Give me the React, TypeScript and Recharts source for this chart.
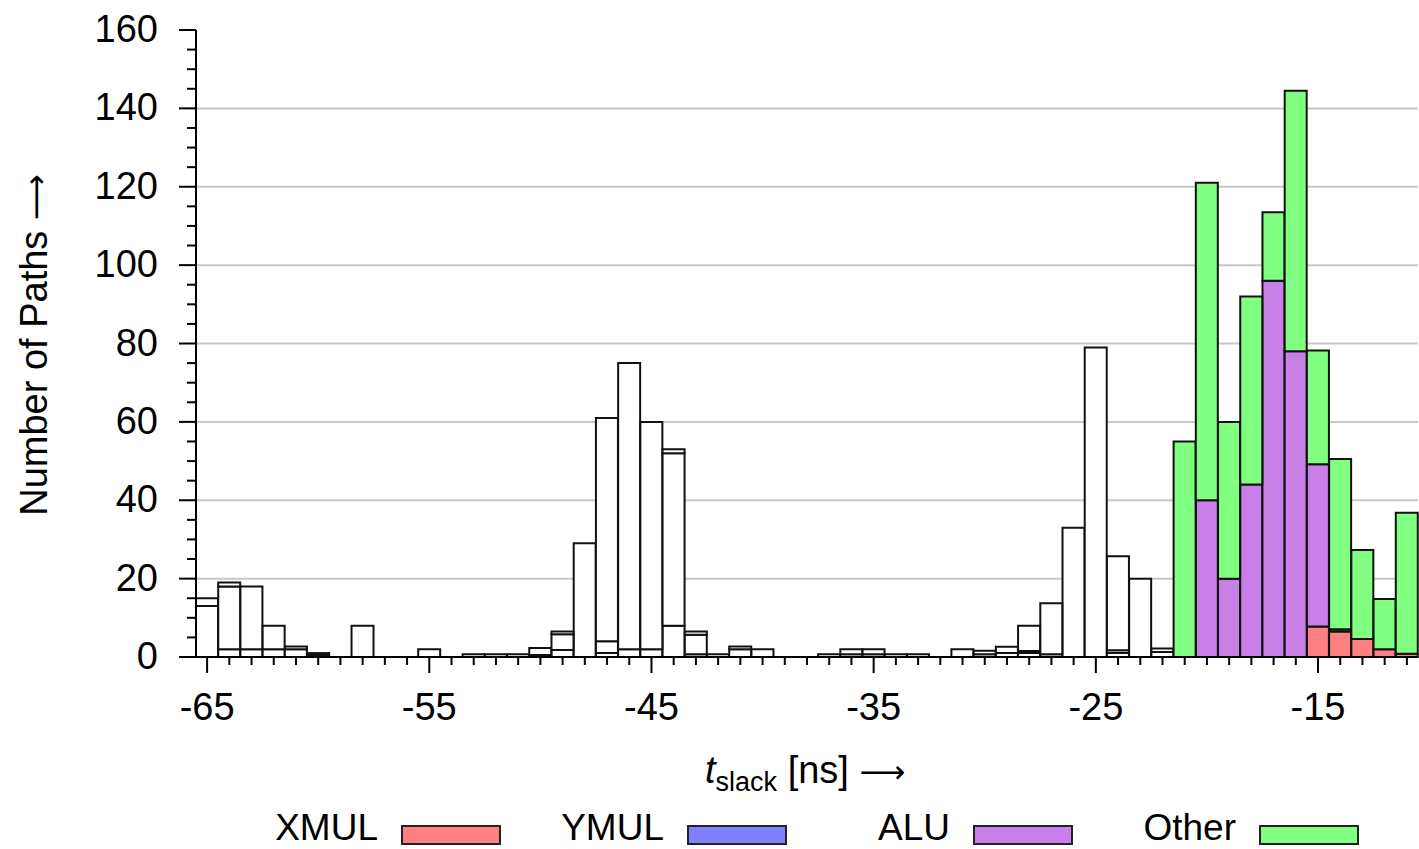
import React from 'react';
import { BarChart, Bar, XAxis, YAxis, CartesianGrid } from 'recharts';

// slack bins [ns], one bar per ns
const bins = [
  -65, -64, -63, -62, -61, -60, -59, -58, -57, -56, -55,
  -54, -53, -52, -51, -50, -49, -48, -47, -46, -45, -44,
  -43, -42, -41, -40, -39, -38, -37, -36, -35, -34, -33,
  -32, -31, -30, -29, -28, -27, -26, -25, -24, -23, -22,
  -21, -20, -19, -18, -17, -16, -15, -14, -13, -12, -11,
];

// uncoloured (outline only) histogram, stacked in three parts
const whiteLow = [
  13, 2, 2, 2, 2, 0.5, 0, 8, 0, 0, 2,
  0, 0.7, 0.7, 0.7, 0.5, 1.8, 29, 1, 2, 2, 8,
  0.7, 0.7, 2, 2, 0, 0, 0.7, 0.7, 0.7, 0.7, 0.7,
  0, 2, 0.7, 1, 1, 0.7, 33, 79, 1, 20, 1.3,
  0, 0, 0, 0, 0, 0, 0, 0, 0, 0, 0,
];
const whiteMid = [
  2, 16, 16, 6, 0.7, 0.5, 0, 0, 0, 0, 0,
  0, 0, 0, 0, 1.8, 4, 0, 3, 73, 58, 44,
  5, 0, 0.7, 0, 0, 0, 0, 1.3, 1.3, 0, 0,
  0, 0, 0.9, 1.6, 0.5, 13, 0, 0, 0.7, 0, 0.9,
  0, 0, 0, 0, 0, 0, 0, 0, 0, 0, 0,
];
const whiteTop = [
  0, 1, 0, 0, 0, 0, 0, 0, 0, 0, 0,
  0, 0, 0, 0, 0, 0.7, 0, 57, 0, 0, 1,
  0.8, 0, 0, 0, 0, 0, 0, 0, 0, 0, 0,
  0, 0, 0, 0, 6.5, 0, 0, 0, 24, 0, 0,
  0, 0, 0, 0, 0, 0, 0, 0, 0, 0, 0,
];

// coloured histogram per unit
const xmul = [
  0, 0, 0, 0, 0, 0, 0, 0, 0, 0, 0,
  0, 0, 0, 0, 0, 0, 0, 0, 0, 0, 0,
  0, 0, 0, 0, 0, 0, 0, 0, 0, 0, 0,
  0, 0, 0, 0, 0, 0, 0, 0, 0, 0, 0,
  0, 0, 0, 0, 0, 0, 7.8, 6.5, 4.6, 2, 0.8,
];
const ymul = [
  0, 0, 0, 0, 0, 0, 0, 0, 0, 0, 0,
  0, 0, 0, 0, 0, 0, 0, 0, 0, 0, 0,
  0, 0, 0, 0, 0, 0, 0, 0, 0, 0, 0,
  0, 0, 0, 0, 0, 0, 0, 0, 0, 0, 0,
  0, 0, 0, 0, 0, 0, 0, 0.6, 0, 0, 0,
];
const alu = [
  0, 0, 0, 0, 0, 0, 0, 0, 0, 0, 0,
  0, 0, 0, 0, 0, 0, 0, 0, 0, 0, 0,
  0, 0, 0, 0, 0, 0, 0, 0, 0, 0, 0,
  0, 0, 0, 0, 0, 0, 0, 0, 0, 0, 0,
  0, 40, 20, 44, 96, 78, 41.4, 0, 0, 0, 0,
];
const other = [
  0, 0, 0, 0, 0, 0, 0, 0, 0, 0, 0,
  0, 0, 0, 0, 0, 0, 0, 0, 0, 0, 0,
  0, 0, 0, 0, 0, 0, 0, 0, 0, 0, 0,
  0, 0, 0, 0, 0, 0, 0, 0, 0, 0, 0,
  55, 81, 40, 48, 17.5, 66.5, 29, 43.4, 22.7, 12.8, 36,
];

const yTicks = [
  0, 5, 10, 15, 20, 25, 30, 35, 40, 45, 50, 55, 60, 65, 70, 75, 80,
  85, 90, 95, 100, 105, 110, 115, 120, 125, 130, 135, 140, 145, 150, 155, 160,
];
const gridValues = [20, 40, 60, 80, 100, 120, 140];

const legendItems = [
  { name: 'XMUL', color: '#ff8080' },
  { name: 'YMUL', color: '#8080ff' },
  { name: 'ALU', color: '#c880e8' },
  { name: 'Other', color: '#80ff80' },
];

const data = bins.map((bin, i) => ({
  bin,
  w1: whiteLow[i],
  w2: whiteMid[i],
  w3: whiteTop[i],
  XMUL: xmul[i],
  YMUL: ymul[i],
  ALU: alu[i],
  Other: other[i],
}));

const FONT = "'Liberation Sans', Arial, Helvetica, sans-serif";
const ARROW_FONT = "'DejaVu Sans', sans-serif";
const EDGE = '#111';

const XTick = ({ x, y, payload }: any) => {
  const major = Math.abs(payload.value) % 10 === 5;
  return (
    <g>
      <line x1={x} x2={x} y1={y} y2={y + (major ? 16 : 8)} stroke="#000" strokeWidth={2} />
      {major && (
        <text x={x} y={y + 63} textAnchor="middle" fontSize={38} fontFamily={FONT} fill="#000">
          {payload.value}
        </text>
      )}
    </g>
  );
};

const YTick = ({ x, y, payload }: any) => {
  const major = payload.value % 20 === 0;
  return (
    <g>
      <line x1={x - (major ? 17 : 9)} x2={x} y1={y} y2={y} stroke="#000" strokeWidth={2} />
      {major && (
        <text x={x - 38} y={y + 12} textAnchor="end" fontSize={38} fontFamily={FONT} fill="#000">
          {payload.value}
        </text>
      )}
    </g>
  );
};

export default function App() {
  const whiteKeys = ['w1', 'w2', 'w3'];
  return (
    <div style={{ position: 'absolute', left: 0, top: 0, width: 1419, height: 849, background: '#fff' }}>
      <BarChart
        width={1419}
        height={849}
        data={data}
        margin={{ top: 30, right: 1, left: 0, bottom: 0 }}
        barCategoryGap={0}
        barGap={0}
      >
        <CartesianGrid vertical={false} horizontalValues={gridValues} stroke="#c8c8c8" strokeWidth={2} />
        <XAxis
          dataKey="bin"
          height={192}
          interval={0}
          tickSize={0}
          tickMargin={0}
          tickLine={false}
          tick={XTick}
          axisLine={{ stroke: '#000', strokeWidth: 2 }}
        />
        <XAxis
          xAxisId="top"
          orientation="top"
          dataKey="bin"
          height={0}
          tick={false}
          tickLine={false}
          axisLine={{ stroke: '#000', strokeWidth: 2 }}
        />
        <YAxis
          type="number"
          domain={[0, 160]}
          ticks={yTicks}
          interval={0}
          width={196}
          tickSize={0}
          tickMargin={0}
          tickLine={false}
          tick={YTick}
          axisLine={{ stroke: '#000', strokeWidth: 2 }}
        />
        <YAxis
          yAxisId="right"
          orientation="right"
          type="number"
          domain={[0, 160]}
          width={0}
          tick={false}
          tickLine={false}
          axisLine={{ stroke: '#000', strokeWidth: 2 }}
        />
        {whiteKeys.map((k) => (
          <Bar key={k} dataKey={k} stackId="a" fill="#fff" stroke={EDGE} strokeWidth={2} isAnimationActive={false} />
        ))}
        {legendItems.map((it) => (
          <Bar
            key={it.name}
            dataKey={it.name}
            stackId="a"
            fill={it.color}
            stroke={EDGE}
            strokeWidth={2}
            isAnimationActive={false}
          />
        ))}
      </BarChart>
      <svg
        width={1419}
        height={849}
        style={{ position: 'absolute', left: 0, top: 0, pointerEvents: 'none' }}
        fontFamily={FONT}
      >
        <text transform="translate(47, 345) rotate(-90)" textAnchor="middle" fontSize={38} fill="#000">
          Number of Paths <tspan fontFamily={ARROW_FONT} fontSize={32}>⟶</tspan>
        </text>
        <text x={705} y={783} fontSize={38} fill="#000">
          <tspan fontStyle="italic">t</tspan>
          <tspan fontSize={27} dy={8}>slack</tspan>
          <tspan dy={-8}> [ns] </tspan>
          <tspan fontFamily={ARROW_FONT} fontSize={32}>⟶</tspan>
        </text>
        {legendItems.map((it, i) => {
          const right = 500 + i * 286;
          return (
            <g key={it.name}>
              <text x={right - 122} y={840} textAnchor="end" fontSize={37} fill="#000">
                {it.name}
              </text>
              <rect x={right - 98} y={826} width={98} height={18} fill={it.color} stroke="#222" strokeWidth={2} />
            </g>
          );
        })}
      </svg>
    </div>
  );
}
